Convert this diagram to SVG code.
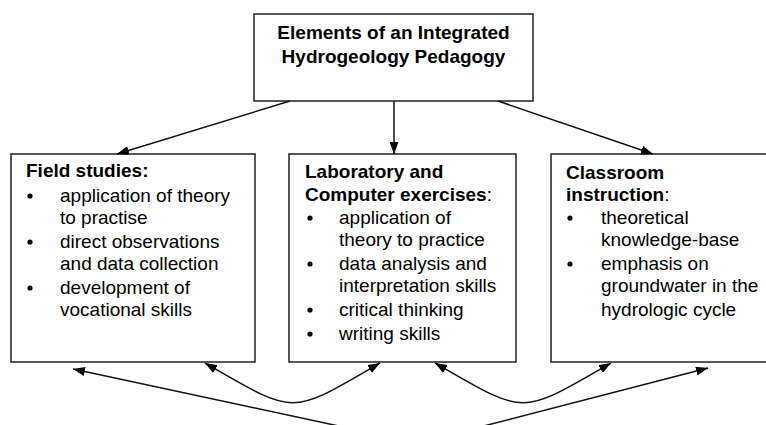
<svg xmlns="http://www.w3.org/2000/svg" width="766" height="425" viewBox="0 0 766 425">
<defs>
<style>
.box{fill:#fff;stroke:#222;stroke-width:1.5}
.t{font-family:"Liberation Sans",Arial,sans-serif;font-size:19px;fill:#000}
.b{font-weight:bold}
.c{fill:none;stroke:#111;stroke-width:1.5}
.dot{fill:#000}
</style>
<marker id="ah" viewBox="0 0 12 9" markerWidth="12" markerHeight="9" refX="12" refY="4.5" markerUnits="userSpaceOnUse" orient="auto-start-reverse">
<path d="M0,0 L12,4.5 L0,9 Z" fill="#000"/>
</marker>
</defs>
<rect width="766" height="425" fill="#fff"/>
<g id="top">
<rect class="box" x="254" y="14" width="279" height="87"/>
<text class="t b" x="393.5" y="39" text-anchor="middle">Elements of an Integrated</text>
<text class="t b" x="393.5" y="63" text-anchor="middle">Hydrogeology Pedagogy</text>
</g>
<g id="field">
<rect class="box" x="11" y="154" width="244" height="208"/>
<text class="t b" x="26" y="177">Field studies:</text>
<circle class="dot" cx="30" cy="196" r="2.6"/>
<text class="t" x="60" y="202">application of theory</text>
<text class="t" x="60" y="224">to practise</text>
<circle class="dot" cx="30" cy="242" r="2.6"/>
<text class="t" x="60" y="248">direct observations</text>
<text class="t" x="60" y="270">and data collection</text>
<circle class="dot" cx="30" cy="288" r="2.6"/>
<text class="t" x="60" y="294">development of</text>
<text class="t" x="60" y="316">vocational skills</text>
</g>
<g id="lab">
<rect class="box" x="289" y="154" width="227" height="208"/>
<text class="t b" x="305" y="178">Laboratory and</text>
<text class="t" x="305" y="201"><tspan class="b">Computer exercises</tspan>:</text>
<circle class="dot" cx="310" cy="218" r="2.6"/>
<text class="t" x="339" y="224">application of</text>
<text class="t" x="339" y="246">theory to practice</text>
<circle class="dot" cx="310" cy="264" r="2.6"/>
<text class="t" x="339" y="270">data analysis and</text>
<text class="t" x="339" y="292">interpretation skills</text>
<circle class="dot" cx="310" cy="310" r="2.6"/>
<text class="t" x="339" y="316">critical thinking</text>
<circle class="dot" cx="310" cy="334" r="2.6"/>
<text class="t" x="339" y="340">writing skills</text>
</g>
<g id="classroom">
<rect class="box" x="551" y="154" width="230" height="208"/>
<text class="t b" x="566" y="179">Classroom</text>
<text class="t" x="566" y="201"><tspan class="b">instruction</tspan>:</text>
<circle class="dot" cx="570" cy="218" r="2.6"/>
<text class="t" x="601" y="224">theoretical</text>
<text class="t" x="601" y="246">knowledge-base</text>
<circle class="dot" cx="570" cy="264" r="2.6"/>
<text class="t" x="601" y="270">emphasis on</text>
<text class="t" x="601" y="292">groundwater in the</text>
<text class="t" x="601" y="316">hydrologic cycle</text>
</g>
<g id="connectors">
<path class="c" d="M290,101 L117,154" marker-end="url(#ah)"/>
<path class="c" d="M394,101 L394,154" marker-end="url(#ah)"/>
<path class="c" d="M498,101 L653,154" marker-end="url(#ah)"/>
<path class="c" d="M205,363 C297,416 289,416 380,363" marker-start="url(#ah)" marker-end="url(#ah)"/>
<path class="c" d="M435,363 C527,416 519,416 611,363" marker-start="url(#ah)" marker-end="url(#ah)"/>
<path class="c" d="M73,369 L418,443 L708,368" marker-start="url(#ah)" marker-end="url(#ah)"/>
</g>
</svg>
